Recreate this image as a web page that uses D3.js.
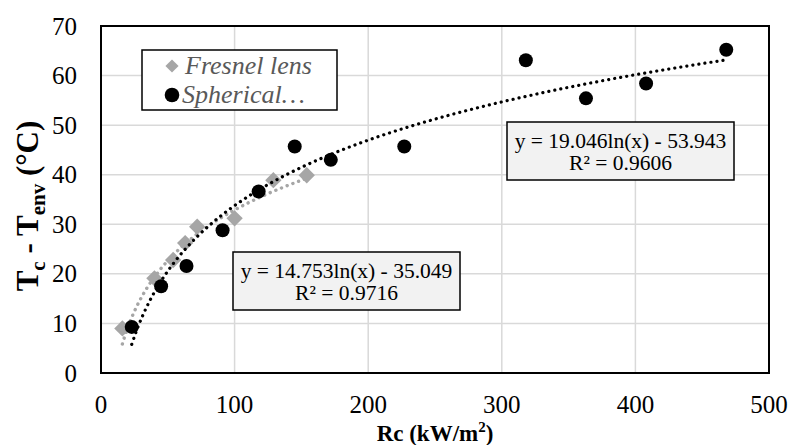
<!DOCTYPE html>
<html>
<head>
<meta charset="utf-8">
<script src="https://cdn.jsdelivr.net/npm/d3@7"></script>
<style>
  body { margin: 0; background: #fff; }
</style>
</head>
<body>
<svg id="chart" width="792" height="445" font-family="'Liberation Serif', 'DejaVu Serif', serif"></svg>
<script>
// data
var fresnelX = [16, 40, 54, 63, 72, 100, 129, 154];
var fresnelY = [9.0, 19.1, 22.8, 26.2, 29.5, 31.2, 38.9, 39.9];
var sphericalX = [23, 45, 64, 91, 118, 145, 172, 227, 318, 363, 408, 468];
var sphericalY = [9.3, 17.5, 21.6, 28.8, 36.6, 45.7, 43.0, 45.7, 63.1, 55.4, 58.4, 65.2];
var xTicks = [0, 100, 200, 300, 400, 500];
var yTicks = [0, 10, 20, 30, 40, 50, 60, 70];
// trendline coefficients y = a ln(x) + b
var fresnelFit = [14.753, -35.049];
var sphericalFit = [19.046, -53.943];

var svg = d3.select('#chart');
var plotL = 101, plotR = 769, plotT = 26, plotB = 373;

var x = d3.scaleLinear().domain([0, 500]).range([plotL, plotR]);
var y = d3.scaleLinear().domain([0, 70]).range([plotB, plotT]);

// gridlines
svg.append('g')
    .selectAll('line')
    .data(xTicks.slice(1, -1))
    .enter()
    .append('line')
    .attr('x1', d => x(d)).attr('x2', d => x(d))
    .attr('y1', plotT).attr('y2', plotB)
    .attr('stroke', '#d9d9d9').attr('stroke-width', 1.5);
svg.append('g')
    .selectAll('line')
    .data(yTicks.slice(1, -1))
    .enter()
    .append('line')
    .attr('x1', plotL).attr('x2', plotR)
    .attr('y1', d => y(d)).attr('y2', d => y(d))
    .attr('stroke', '#d9d9d9').attr('stroke-width', 1.5);

// tick labels
svg.append('g')
    .selectAll('text')
    .data(xTicks)
    .enter()
    .append('text')
    .attr('x', d => x(d))
    .attr('y', 413)
    .attr('text-anchor', 'middle')
    .attr('font-size', 25)
    .text(d => d);
svg.append('g')
    .selectAll('text')
    .data(yTicks)
    .enter()
    .append('text')
    .attr('x', 77)
    .attr('y', d => y(d) + 8.5)
    .attr('text-anchor', 'end')
    .attr('font-size', 25)
    .text(d => d);

// trendlines
function fitPoints(xs, fit) {
    var lo = d3.min(xs), hi = d3.max(xs);
    return d3.range(0, 101).map(i => {
        var xv = lo + (hi - lo) * i / 100;
        return [xv, fit[0] * Math.log(xv) + fit[1]];
    });
}
var line = d3.line().x(d => x(d[0])).y(d => y(d[1])).curve(d3.curveMonotoneX);

svg.append('path')
    .attr('d', line(fitPoints(fresnelX, fresnelFit)))
    .attr('fill', 'none')
    .attr('stroke', '#a6a6a6')
    .attr('stroke-width', 3.4)
    .attr('stroke-linecap', 'round')
    .attr('stroke-dasharray', '0.1 6');

// points
var fresnel = d3.zip(fresnelX, fresnelY);
var spherical = d3.zip(sphericalX, sphericalY);

svg.append('g')
    .selectAll('path')
    .data(fresnel)
    .enter()
    .append('path')
    .attr('d', d3.symbol().type(d3.symbolDiamond2).size(170))
    .attr('transform', d => 'translate(' + x(d[0]) + ',' + y(d[1]) + ')')
    .attr('fill', '#a6a6a6');

svg.append('g')
    .selectAll('circle')
    .data(spherical)
    .enter()
    .append('circle')
    .attr('cx', d => x(d[0]))
    .attr('cy', d => y(d[1]))
    .attr('r', 7)
    .attr('fill', '#000');

svg.append('path')
    .attr('d', line(fitPoints(sphericalX, sphericalFit)))
    .attr('fill', 'none')
    .attr('stroke', '#000')
    .attr('stroke-width', 3.2)
    .attr('stroke-linecap', 'round')
    .attr('stroke-dasharray', '0.1 6');

// plot frame
svg.append('rect')
    .attr('x', plotL).attr('y', plotT)
    .attr('width', plotR - plotL).attr('height', plotB - plotT)
    .attr('fill', 'none')
    .attr('stroke', '#000')
    .attr('stroke-width', 2);

// equation labels
function eqBox(bx, by, w, h, line1, line2) {
    var g = svg.append('g');
    g.append('rect')
        .attr('x', bx).attr('y', by)
        .attr('width', w).attr('height', h)
        .attr('fill', '#f2f2f2')
        .attr('stroke', '#000')
        .attr('stroke-width', 1.5);
    g.append('text')
        .attr('x', bx + w / 2).attr('y', by + 26)
        .attr('text-anchor', 'middle')
        .attr('font-size', 21.5)
        .text(line1);
    g.append('text')
        .attr('x', bx + w / 2).attr('y', by + 48)
        .attr('text-anchor', 'middle')
        .attr('font-size', 21.5)
        .text(line2);
}
eqBox(233, 252, 227, 58, 'y = 14.753ln(x) - 35.049', 'R² = 0.9716');
eqBox(507, 122, 227, 58, 'y = 19.046ln(x) - 53.943', 'R² = 0.9606');

// legend
var legend = svg.append('g');
legend.append('rect')
    .attr('x', 142).attr('y', 50)
    .attr('width', 195).attr('height', 60)
    .attr('fill', '#fff')
    .attr('stroke', '#000')
    .attr('stroke-width', 1.5);
legend.append('path')
    .attr('d', d3.symbol().type(d3.symbolDiamond2).size(110))
    .attr('transform', 'translate(172,66)')
    .attr('fill', '#a6a6a6');
legend.append('circle')
    .attr('cx', 172).attr('cy', 95).attr('r', 7.3)
    .attr('fill', '#000');
legend.append('text')
    .attr('x', 185).attr('y', 74)
    .attr('font-size', 26)
    .attr('font-style', 'italic')
    .attr('fill', '#595959')
    .text('Fresnel lens');
legend.append('text')
    .attr('x', 182).attr('y', 103)
    .attr('font-size', 26)
    .attr('font-style', 'italic')
    .attr('fill', '#595959')
    .text('Spherical…');

// axis titles
var xt = svg.append('text')
    .attr('x', 435).attr('y', 441)
    .attr('text-anchor', 'middle')
    .attr('font-size', 23)
    .attr('font-weight', 'bold');
xt.append('tspan').text('Rc (kW/m');
xt.append('tspan').attr('dy', -9).attr('font-size', 15).text('2');
xt.append('tspan').attr('dy', 9).text(')');

var yt = svg.append('text')
    .attr('transform', 'translate(38,206) rotate(-90)')
    .attr('text-anchor', 'middle')
    .attr('font-size', 31)
    .attr('font-weight', 'bold');
yt.append('tspan').text('T');
yt.append('tspan').attr('dy', 7).attr('font-size', 21).text('c');
yt.append('tspan').attr('dy', -7).text(' - T');
yt.append('tspan').attr('dy', 7).attr('font-size', 21).text('env');
yt.append('tspan').attr('dy', -7).text(' (°C)');
</script>
</body>
</html>
